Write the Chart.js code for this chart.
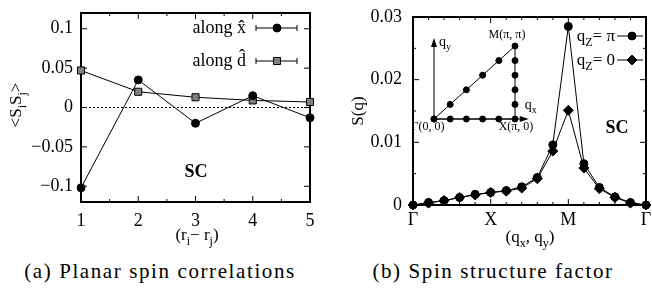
<!doctype html>
<html lang="en">
<head>
  <meta charset="utf-8">
  <title>Planar spin correlations and spin structure factor</title>
  <script src="https://cdn.jsdelivr.net/npm/chart.js"></script>
  <style>
    body { margin: 0; background: #fff; }
    #wrap { position: relative; width: 652px; height: 289px; }
    canvas { position: absolute; }
    .cap { position: absolute; top: 259px; font: 21px "Liberation Serif", serif; letter-spacing: 1.6px; line-height: 24px; text-align: center; color: #000; }
  </style>
</head>
<body>
<div id="wrap">
  <canvas id="chartA" width="330" height="250" style="left:0;top:0"></canvas>
  <canvas id="chartB" width="322" height="250" style="left:330px;top:0"></canvas>
  <canvas id="inset" width="142" height="120" style="left:398px;top:20px"></canvas>
  <div class="cap" style="left:0;width:320px">(a) Planar spin correlations</div>
  <div class="cap" style="left:332px;width:322px">(b) Spin structure factor</div>
</div>

<script>
  // (a) spin correlations vs distance
  const rDist = [1, 2, 3, 4, 5];
  const alongX = [-0.102, 0.035, -0.020, 0.015, -0.013];
  const alongD = [0.047, 0.020, 0.013, 0.009, 0.007];
  const ticksAx = [1, 2, 3, 4, 5];
  const ticksAy = [-0.1, -0.05, 0, 0.05, 0.1];

  // (b) structure factor along Γ-X-M-Γ
  const qIndex = [0, 1, 2, 3, 4, 5, 6, 7, 8, 9, 10, 11, 12, 13, 14, 15];
  const sqPi = [0, 0.0004, 0.0007, 0.0012, 0.0017, 0.0020, 0.0023, 0.0029, 0.0044, 0.0096, 0.0285, 0.0066, 0.0028, 0.0013, 0.0004, 0];
  const sqZero = [0, 0.0003, 0.0007, 0.0012, 0.0016, 0.0020, 0.0022, 0.0027, 0.0042, 0.0086, 0.0151, 0.0059, 0.0026, 0.0012, 0.0003, 0];
  const qLabels = ['Γ', 'X', 'M', 'Γ'];
  const ticksBx = [0, 5, 10, 15];
  const ticksBy = [0, 0.01, 0.02, 0.03];

  // inset: path in the Brillouin zone, units of π/5
  const insetQx = [0, 1, 2, 3, 4, 5, 5, 5, 5, 5, 5, 4, 3, 2, 1, 0];
  const insetQy = [0, 0, 0, 0, 0, 0, 1, 2, 3, 4, 5, 4, 3, 2, 1, 0];

  const SERIF = '"Liberation Serif", "Times New Roman", serif';

  // text with "_c" subscripts
  function rich(ctx, str, x, y, size, align, bold) {
    const segs = [];
    for (let i = 0; i < str.length; i++) {
      if (str[i] === '_') { segs.push({ t: str[i + 1], sub: true }); i++; }
      else if (segs.length && !segs[segs.length - 1].sub) segs[segs.length - 1].t += str[i];
      else segs.push({ t: str[i], sub: false });
    }
    const font = s => (bold ? 'bold ' : '') + (s.sub ? Math.round(size * 0.72) : size) + 'px ' + SERIF;
    let w = 0;
    segs.forEach(s => { ctx.font = font(s); w += ctx.measureText(s.t).width; });
    let cx = align === 'center' ? x - w / 2 : align === 'right' ? x - w : x;
    ctx.textAlign = 'left';
    ctx.textBaseline = 'alphabetic';
    ctx.fillStyle = '#000';
    segs.forEach(s => {
      ctx.font = font(s);
      ctx.fillText(s.t, cx, y + (s.sub ? size * 0.3 : 0));
      cx += ctx.measureText(s.t).width;
    });
  }

  function marker(ctx, ds, x, y) {
    const r = ds.pointRadius;
    ctx.fillStyle = ds.backgroundColor;
    ctx.strokeStyle = '#000';
    ctx.lineWidth = 1;
    ctx.beginPath();
    if (ds.pointStyle === 'circle') ctx.arc(x, y, r, 0, Math.PI * 2);
    else if (ds.pointStyle === 'rect') { const h = r / Math.SQRT2; ctx.rect(x - h, y - h, 2 * h, 2 * h); }
    else { ctx.moveTo(x, y - r); ctx.lineTo(x + r, y); ctx.lineTo(x, y + r); ctx.lineTo(x - r, y); ctx.closePath(); }
    ctx.fill();
    ctx.stroke();
  }

  function line(ctx, x0, y0, x1, y1) {
    ctx.beginPath(); ctx.moveTo(x0, y0); ctx.lineTo(x1, y1); ctx.stroke();
  }

  // gnuplot-like box with inward ticks, legend, titles
  const frame = {
    id: 'frame',
    beforeDatasetsDraw(chart, args, o) {
      const { ctx, chartArea: a, scales: { x, y } } = chart;
      ctx.save();
      ctx.strokeStyle = '#000';
      if (o.zero) {
        ctx.lineWidth = 1;
        ctx.setLineDash([2, 2]);
        const py = y.getPixelForValue(0);
        line(ctx, a.left, py, a.right, py);
        ctx.setLineDash([]);
      }
      ctx.lineWidth = 1;
      const tx = (v, len) => { const p = x.getPixelForValue(v); line(ctx, p, a.bottom, p, a.bottom - len); line(ctx, p, a.top, p, a.top + len); };
      const ty = (v, len) => { const p = y.getPixelForValue(v); line(ctx, a.left, p, a.left + len, p); line(ctx, a.right, p, a.right - len, p); };
      x.ticks.forEach(t => tx(t.value, 6));
      y.ticks.forEach(t => ty(t.value, 6));
      (o.minorX || []).forEach(v => tx(v, 3));
      (o.minorY || []).forEach(v => ty(v, 3));
      ctx.lineWidth = 2;
      ctx.strokeRect(a.left, a.top, a.width, a.height);
      ctx.restore();
    },
    afterDraw(chart, args, o) {
      const ctx = chart.ctx;
      ctx.save();
      rich(ctx, o.xTitle.text, o.xTitle.x, o.xTitle.y, 17, 'center');
      ctx.save();
      ctx.translate(o.yTitle.x, o.yTitle.y);
      ctx.rotate(-Math.PI / 2);
      rich(ctx, o.yTitle.text, 0, 6, 17, 'center');
      ctx.restore();
      rich(ctx, 'SC', o.sc.x, o.sc.y, 18, 'center', true);
      const L = o.legend;
      chart.data.datasets.forEach((ds, i) => {
        const ry = L.rows[i];
        rich(ctx, ds.label, L.textX, ry + 5, L.size, 'right');
        ctx.strokeStyle = '#000';
        ctx.lineWidth = 1;
        line(ctx, L.x0, ry, L.x1, ry);
        if (L.caps) { line(ctx, L.x0, ry - 3, L.x0, ry + 3); line(ctx, L.x1, ry - 3, L.x1, ry + 3); }
        marker(ctx, ds, L.mx, ry);
      });
      ctx.restore();
    }
  };

  const tickFont = { family: SERIF, size: 18 };

  function axes(xMin, xMax, xTicks, xFmt, xPad, xH, yMin, yMax, yTicks, yFmt, yPad, yW) {
    return {
      x: {
        type: 'linear', min: xMin, max: xMax,
        afterBuildTicks: s => { s.ticks = xTicks.map(v => ({ value: v })); },
        grid: { display: false, drawTicks: false }, border: { display: false },
        ticks: { font: tickFont, color: '#000', padding: xPad, maxRotation: 0, autoSkip: false, callback: xFmt },
        afterFit: s => { s.height = xH; s.paddingLeft = 0; s.paddingRight = 0; }
      },
      y: {
        type: 'linear', min: yMin, max: yMax,
        afterBuildTicks: s => { s.ticks = yTicks.map(v => ({ value: v })); },
        grid: { display: false, drawTicks: false }, border: { display: false },
        ticks: { font: tickFont, color: '#000', padding: yPad, autoSkip: false, callback: yFmt },
        afterFit: s => { s.width = yW; s.paddingTop = 0; s.paddingBottom = 0; }
      }
    };
  }

  const fmtA = v => (v < 0 ? '−' + String(-v) : String(v));

  new Chart(document.getElementById('chartA'), {
    type: 'scatter',
    data: {
      datasets: [
        { label: 'along x\u0302', data: rDist.map((r, i) => ({ x: r, y: alongX[i] })), showLine: true, clip: false,
          borderColor: '#000', borderWidth: 1, backgroundColor: '#000', pointStyle: 'circle', pointRadius: 4, pointBorderColor: '#000' },
        { label: 'along d\u0302', data: rDist.map((r, i) => ({ x: r, y: alongD[i] })), showLine: true, clip: false,
          borderColor: '#000', borderWidth: 1, backgroundColor: '#808080', pointStyle: 'rect', pointRadius: 5, pointBorderColor: '#000' }
      ]
    },
    options: {
      responsive: false, animation: false, events: [],
      layout: { padding: { top: 13, right: 20, left: 0, bottom: 0 } },
      scales: axes(1, 5, ticksAx, v => String(v), 8, 48, -0.12, 0.12, ticksAy, fmtA, 8, 81),
      plugins: {
        legend: { display: false }, tooltip: { enabled: false },
        frame: {
          zero: true,
          minorX: [1.5, 2.5, 3.5, 4.5],
          xTitle: { text: '(r_i− r_j)', x: 197, y: 240 },
          yTitle: { text: '<S_iS_j>', x: 15, y: 105 },
          sc: { x: 196, y: 177 },
          legend: { rows: [28, 61], textX: 246, x0: 256, x1: 297, mx: 277, caps: true, size: 18 }
        }
      }
    },
    plugins: [frame]
  });

  new Chart(document.getElementById('chartB'), {
    type: 'scatter',
    data: {
      datasets: [
        { label: 'q_Z= π', data: qIndex.map((q, i) => ({ x: q, y: sqPi[i] })), showLine: true, clip: false,
          borderColor: '#000', borderWidth: 1, backgroundColor: '#000', pointStyle: 'circle', pointRadius: 4, pointBorderColor: '#000' },
        { label: 'q_Z= 0', data: qIndex.map((q, i) => ({ x: q, y: sqZero[i] })), showLine: true, clip: false,
          borderColor: '#000', borderWidth: 1, backgroundColor: '#000', pointStyle: 'rectRot', pointRadius: 5, pointBorderColor: '#000' }
      ]
    },
    options: {
      responsive: false, animation: false, events: [],
      layout: { padding: { top: 17, right: 4, left: 0, bottom: 0 } },
      scales: axes(0, 15, ticksBx, v => qLabels[ticksBx.indexOf(v)], 4, 45, 0, 0.03, ticksBy, v => String(v), 11, 83),
      plugins: {
        legend: { display: false }, tooltip: { enabled: false },
        frame: {
          minorX: qIndex.filter(q => q % 5),
          minorY: [0.005, 0.015, 0.025],
          xTitle: { text: '(q_x, q_y)', x: 200, y: 242 },
          yTitle: { text: 'S(q)', x: 27, y: 111 },
          sc: { x: 287, y: 133 },
          legend: { rows: [36, 60], textX: 285, x0: 287, x1: 313, mx: 302, caps: false, size: 17 }
        }
      }
    },
    plugins: [frame]
  });

  // inset: Γ-X-M-Γ path
  const insetDeco = {
    id: 'insetDeco',
    beforeDatasetsDraw(chart) {
      const { ctx, scales: { x, y } } = chart;
      const ox = x.getPixelForValue(0), oy = y.getPixelForValue(0);
      const ex = x.getPixelForValue(5.85), ey = y.getPixelForValue(5.55);
      ctx.save();
      ctx.strokeStyle = '#000'; ctx.fillStyle = '#000'; ctx.lineWidth = 1;
      line(ctx, ox, oy, ex - 6, oy);
      line(ctx, ox, oy, ox, ey + 6);
      ctx.beginPath(); ctx.moveTo(ex, oy); ctx.lineTo(ex - 9, oy - 3); ctx.lineTo(ex - 9, oy + 3); ctx.closePath(); ctx.fill();
      ctx.beginPath(); ctx.moveTo(ox, ey); ctx.lineTo(ox - 3, ey + 9); ctx.lineTo(ox + 3, ey + 9); ctx.closePath(); ctx.fill();
      ctx.restore();
    },
    afterDraw(chart) {
      const { ctx, scales: { x, y } } = chart;
      const ox = x.getPixelForValue(0), oy = y.getPixelForValue(0);
      const mx = x.getPixelForValue(5), my = y.getPixelForValue(5);
      ctx.save();
      rich(ctx, 'Γ(0, 0)', ox - 6, oy + 11, 12, 'center');
      rich(ctx, 'X(π, 0)', mx + 1, oy + 11, 12, 'center');
      rich(ctx, 'M(π, π)', mx - 8, my - 8, 12, 'center');
      rich(ctx, 'q_y', ox + 5, y.getPixelForValue(5.55) + 8, 14, 'left');
      rich(ctx, 'q_x', x.getPixelForValue(5.85) - 4, oy - 10, 14, 'left');
      ctx.restore();
    }
  };

  new Chart(document.getElementById('inset'), {
    type: 'scatter',
    data: {
      datasets: [{
        data: insetQx.map((q, i) => ({ x: q, y: insetQy[i] })), showLine: true, clip: false,
        borderColor: '#000', borderWidth: 1, backgroundColor: '#000', pointRadius: 3, pointBorderColor: '#000'
      }]
    },
    options: {
      responsive: false, animation: false, events: [],
      layout: { padding: { left: 36, right: 25, top: 26, bottom: 21 } },
      scales: { x: { display: false, min: 0, max: 5 }, y: { display: false, min: 0, max: 5 } },
      plugins: { legend: { display: false }, tooltip: { enabled: false } }
    },
    plugins: [insetDeco]
  });
</script>
</body>
</html>
